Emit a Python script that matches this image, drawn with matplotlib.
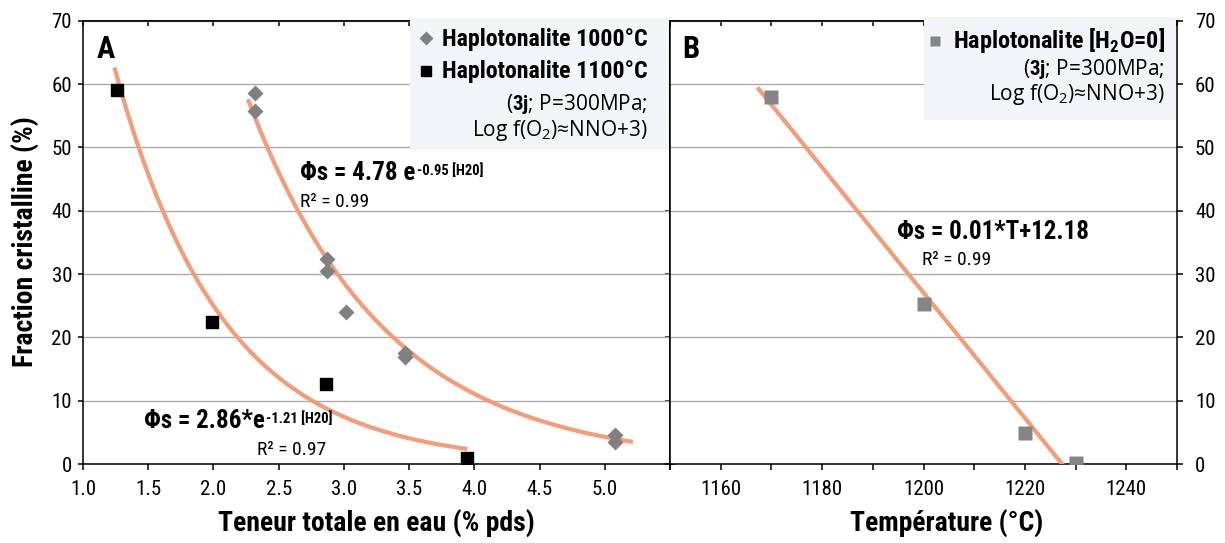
import numpy as np
import matplotlib
matplotlib.use('Agg')
import matplotlib.pyplot as plt
from matplotlib import font_manager as fm
from matplotlib.lines import Line2D
from matplotlib.patches import Rectangle


def choisir_police(noms):
    for n in noms:
        try:
            fm.findfont(fm.FontProperties(family=n), fallback_to_default=False)
            return n
        except Exception:
            pass
    return 'DejaVu Sans'


COND = choisir_police(['Liberation Sans Narrow', 'Roboto Condensed', 'DejaVu Sans'])
REG = choisir_police(['Open Sans', 'Noto Sans', 'DejaVu Sans'])
plt.rcParams['font.family'] = [COND, 'DejaVu Sans']
plt.rcParams['mathtext.fontset'] = 'custom'
plt.rcParams['mathtext.rm'] = REG
plt.rcParams['mathtext.bf'] = COND + ':bold'

# --- donnees panneau A : teneur en eau (% pds) vs fraction cristalline (%)
eau_1000 = [2.32, 2.32, 2.87, 2.87, 3.02, 3.47, 3.47, 5.08, 5.08]
phi_1000 = [58.6, 55.7, 32.3, 30.4, 24.0, 17.6, 16.9, 4.6, 3.4]
eau_1100 = [1.26, 1.99, 2.86, 3.94]
phi_1100 = [59.0, 22.5, 12.6, 1.0]

# courbes de tendance phi = a*exp(b*eau)
tend_1000 = (495.0, -0.95)
tend_1100 = (281.0, -1.21)
plage_1000 = (2.27, 5.20)
plage_1100 = (1.245, 3.93)

# --- donnees panneau B : temperature (C) vs fraction cristalline (%)
temp_b = [1170, 1200, 1220, 1230]
phi_b = [58.0, 25.3, 4.9, 0.2]
debut_b = 1167.5

ticks_a = [1.0, 1.5, 2.0, 2.5, 3.0, 3.5, 4.0, 4.5, 5.0, 5.5]
labels_a = ['1.0', '1.5', '2.0', '2.5', '3.0', '3.5', '4.0', '4.5', '5.0', '']
ticks_b = [1160, 1180, 1200, 1220, 1240]
ticks_b_min = [1150, 1170, 1190, 1210, 1230, 1250]
ticks_y = [0, 10, 20, 30, 40, 50, 60, 70]

ORANGE = '#F39C77'
GRIS = '#808080'
FOND = '#F2F4F7'

W, H = 1225, 543
def fx(px):
    return px / W
def fy(py):
    return 1 - py / H

fig = plt.figure(figsize=(W / 100, H / 100), dpi=100)
bas, haut = fy(464), (464 - 20.7) / H
axA = fig.add_axes([fx(83), bas, (670 - 83) / W, haut])
axB = fig.add_axes([fx(670), bas, (1177 - 670) / W, haut])

for ax in (axA, axB):
    ax.set_ylim(0, 70)
    ax.set_yticks(ticks_y)
    ax.set_axisbelow(True)
    ax.yaxis.grid(True, color='#ABABAB', lw=1.0)
    for s in ax.spines.values():
        s.set_linewidth(1.1)
    ax.tick_params(width=1.1, labelsize=15)

# panneau A
axA.set_xlim(1.0, 5.5)
axA.set_xticks(ticks_a)
axA.set_xticklabels(labels_a)
axA.tick_params(axis='x', direction='out', length=4.3, pad=7, top=False)
axA.tick_params(axis='y', direction='out', length=3.6, pad=4.3, right=False)

xs = np.linspace(plage_1000[0], plage_1000[1], 200)
axA.plot(xs, tend_1000[0] * np.exp(tend_1000[1] * xs), color=ORANGE, lw=3, zorder=3)
xs = np.linspace(plage_1100[0], plage_1100[1], 200)
axA.plot(xs, tend_1100[0] * np.exp(tend_1100[1] * xs), color=ORANGE, lw=3, zorder=3)
axA.plot(eau_1000, phi_1000, 'D', color=GRIS, ms=8, mec='none', zorder=4)
axA.plot(eau_1100, phi_1100, 's', color='black', ms=8, zorder=4)

secA = axA.secondary_xaxis('top')
secA.set_xticks(ticks_a)
secA.tick_params(direction='in', length=3.6, width=1.1, labeltop=False)
secA.spines['top'].set_linewidth(1.1)
secAr = axA.secondary_yaxis('right')
secAr.set_yticks(ticks_y)
secAr.tick_params(direction='inout', length=7, width=1.1, labelright=False)
secAr.spines['right'].set_linewidth(1.1)

# panneau B
axB.set_xlim(1150, 1250)
axB.set_xticks(ticks_b)
axB.set_xticks(ticks_b_min, minor=True)
axB.tick_params(axis='x', which='both', direction='out', length=4.3, width=1.1, pad=7, top=False)
axB.yaxis.tick_right()
axB.tick_params(axis='y', direction='out', length=4.3, pad=8.6, left=False)

coef = np.polyfit(temp_b, phi_b, 1)
tx = np.array([debut_b, -coef[1] / coef[0]])
axB.plot(tx, np.polyval(coef, tx), color=ORANGE, lw=3, zorder=3)
axB.plot(temp_b, phi_b, 's', color='#858585', ms=9.4, mec='none', zorder=4)

secB = axB.secondary_xaxis('top')
secB.set_xticks(ticks_b_min + ticks_b)
secB.tick_params(direction='in', length=3.6, width=1.1, labeltop=False)
secB.spines['top'].set_linewidth(1.1)

# equations
gras = dict(fontfamily=COND, fontweight='bold')
t1 = axA.text(2.664, 44.8, 'Φs = 4.78 e', fontsize=18, ha='left', va='baseline', **gras)
axA.annotate('-0.95 [H20]', xy=(1, 1), xycoords=t1, xytext=(1, -1.5),
             textcoords='offset points', ha='left', va='top', fontsize=10.5, **gras)
axA.text(2.664, 40.6, 'R² = 0.99', fontsize=14, ha='left', va='baseline')
t2 = axA.text(1.468, 5.7, 'Φs = 2.86*e', fontsize=18, ha='left', va='baseline', **gras)
axA.annotate('-1.21 [H20]', xy=(1, 1), xycoords=t2, xytext=(1, -1.5),
             textcoords='offset points', ha='left', va='top', fontsize=10.5, **gras)
axA.text(2.334, 1.5, 'R² = 0.97', fontsize=14, ha='left', va='baseline')
axB.text(1194.8, 35.6, 'Φs = 0.01*T+12.18', fontsize=18, ha='left', va='baseline', **gras)
axB.text(1199.7, 31.4, 'R² = 0.99', fontsize=14, ha='left', va='baseline')

# lettres des panneaux
fig.text(fx(97), fy(58), 'A', fontsize=22, **gras)
fig.text(fx(682), fy(58), 'B', fontsize=22, **gras)

# titres d'axes
fig.text(fx(376), fy(523), 'Teneur totale en eau (% pds)', fontsize=20, ha='center', va='center', **gras)
fig.text(fx(947), fy(523), 'Température (°C)', fontsize=20, ha='center', va='center', **gras)
fig.text(fx(25), fy(242), 'Fraction cristalline (%)', fontsize=20, ha='center', va='center',
         rotation=90, **gras)

# legende A
fig.add_artist(Rectangle((fx(410), fy(148)), (668.5 - 410) / W, (148 - 18) / H,
                         transform=fig.transFigure, facecolor=FOND, edgecolor='none', zorder=5))
fig.add_artist(Line2D([fx(426)], [fy(38)], marker='D', ms=7.5, color=GRIS, mec='none',
                      transform=fig.transFigure, zorder=6))
fig.add_artist(Line2D([fx(426)], [fy(71)], marker='s', ms=6.5, color='black',
                      transform=fig.transFigure, zorder=6))
fig.text(fx(648), fy(46), 'Haplotonalite 1000°C', fontsize=17.2, ha='right', va='baseline', zorder=6, **gras)
fig.text(fx(648), fy(78), 'Haplotonalite 1100°C', fontsize=17.2, ha='right', va='baseline', zorder=6, **gras)
fig.text(fx(648), fy(110), r'($\mathbf{3j}$; P=300MPa;', fontsize=15, fontfamily=REG,
         ha='right', va='baseline', zorder=6)
fig.text(fx(648), fy(136), r'Log f(O$_2$)≈NNO+3)', fontsize=15, fontfamily=REG,
         ha='right', va='baseline', zorder=6)

# legende B
fig.add_artist(Rectangle((fx(924), fy(120)), (1176 - 924) / W, (120 - 17) / H,
                         transform=fig.transFigure, facecolor=FOND, edgecolor='none', zorder=5))
fig.add_artist(Line2D([fx(935)], [fy(41)], marker='s', ms=7, color='#858585', mec='none',
                      transform=fig.transFigure, zorder=6))
fig.text(fx(1165), fy(48), r'Haplotonalite [H$_\mathbf{2}$O=0]', fontsize=17.4, ha='right',
         va='baseline', zorder=6, **gras)
fig.text(fx(1165), fy(75), r'($\mathbf{3j}$; P=300MPa;', fontsize=15, fontfamily=REG,
         ha='right', va='baseline', zorder=6)
fig.text(fx(1165), fy(100), r'Log f(O$_2$)≈NNO+3)', fontsize=15, fontfamily=REG,
         ha='right', va='baseline', zorder=6)

fig.savefig('out.png', dpi=100)
